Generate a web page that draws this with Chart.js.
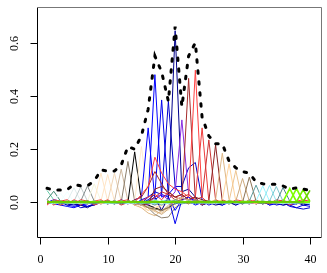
<!DOCTYPE html>
<html>
<head>
<meta charset="utf-8">
<script src="https://cdn.jsdelivr.net/npm/chart.js@4/dist/chart.umd.min.js"></script>
<style>
  html, body { margin: 0; padding: 0; background: #fff; }
  canvas { display: block; }
</style>
</head>
<body>
<canvas id="chart" width="327" height="273"></canvas>
<script>
const lags = [1,2,3,4,5,6,7,8,9,10,11,12,13,14,15,16,17,18,19,20,
              21,22,23,24,25,26,27,28,29,30,31,32,33,34,35,36,37,38,39,40];
const xTicks = [0, 10, 20, 30, 40];
const yTicks = [0, 0.2, 0.4, 0.6];
const yTickLabels = ["0.0", "0.2", "0.4", "0.6"];

// upper envelope (black dotted)
const envelope = [.053,.047,.047,.048,.068,.062,.063,.08,.122,.118,
                  .118,.14,.21,.20,.25,.35,.55,.49,.38,.66,
                  .36,.55,.60,.32,.25,.22,.22,.155,.13,.116,
                  .11,.077,.07,.068,.068,.062,.05,.055,.05,.045];

// one curve per lag, spike at its own lag
const curves = [
  [.045,.01,0,-.005,.005,0,-.005,0,.005,0, -.005,0,.005,0,-.005,.01,0,-.01,.005,0, 0,-.005,.005,0,0,.005,-.005,0,.005,0, -.005,0,.005,0,0,-.005,0,.005,0,-.005],
  [.01,.042,.005,0,-.005,.005,0,-.005,0,.005, 0,.005,-.005,0,.005,0,-.01,.005,0,-.005, .005,0,-.005,0,.005,0,0,-.005,0,.005, 0,-.005,0,.005,0,0,.005,-.005,0,0],
  [0,.005,.035,0,.005,-.005,0,.005,0,-.005, .005,0,0,-.005,.005,0,.01,-.005,0,.005, 0,-.005,0,.005,0,-.005,.005,0,0,-.005, .005,0,-.005,0,.005,0,0,-.005,.005,0],
  [.005,0,.005,.04,0,.005,-.005,0,.005,0, -.005,.005,0,.005,0,-.005,.005,0,-.005,0, .005,0,-.005,.005,0,0,-.005,.005,0,0, -.005,.005,0,0,-.005,.005,0,0,.005,-.005],
  [0,.005,0,.005,.055,.005,0,-.005,.005,0, 0,-.005,.005,0,-.01,.005,0,.005,-.005,0, 0,.005,0,-.005,.005,0,-.005,0,.005,0, 0,-.005,.005,0,0,.005,-.005,0,0,.005],
  [-.005,0,.005,0,.005,.058,.005,0,-.005,.005, 0,.005,-.005,0,.005,-.01,.005,0,.005,-.005, 0,.005,0,0,-.005,.005,0,-.005,0,.005, 0,0,-.005,.005,0,-.005,.005,0,0,-.005],
  [0,-.005,0,.005,0,.005,.062,.005,0,-.005, .005,0,-.005,.005,0,.005,-.005,-.01,0,.005, -.005,0,.005,0,-.005,0,.005,0,-.005,0, .005,0,0,-.005,.005,0,-.005,0,.005,0],
  [.005,0,-.005,0,.005,0,.005,.07,.005,0, -.005,.005,0,0,-.01,-.015,.005,0,-.005,.005, 0,-.005,.005,0,0,.005,-.005,0,.005,0, -.005,0,.005,0,0,-.005,0,.005,0,0],
  [0,.005,0,-.005,.005,0,0,.005,.11,.005, 0,-.005,.005,0,-.02,-.03,-.01,.005,0,-.005, .005,0,-.005,.005,0,-.005,0,.005,0,-.005, 0,.005,0,-.005,0,.005,0,-.005,.005,0],
  [.005,0,.005,0,-.005,.005,0,0,.005,.105, .005,0,-.005,.005,0,-.02,-.025,-.01,.005,0, -.005,.005,0,0,.005,-.005,0,.005,0,0, -.005,0,.005,0,-.005,0,.005,0,0,-.005],
  [0,-.005,0,.005,0,0,-.005,.005,0,.005, .11,.005,0,-.005,.005,-.01,-.03,-.02,0,.005, 0,.005,-.005,0,.005,0,-.005,0,.005,0, 0,-.005,.005,0,0,.005,-.005,0,.005,0],
  [.005,0,.005,-.005,0,.005,0,-.005,.005,0, .005,.125,.005,0,-.005,-.015,-.02,-.035,-.01,.005, 0,-.005,.005,0,0,.005,-.005,.005,0,-.005, .005,0,0,-.005,.005,0,0,.005,-.005,0],
  [0,.005,-.005,0,.005,0,.005,0,-.005,0, .005,0,.154,.005,-.01,-.02,-.045,-.058,-.055,-.02, -.005,.005,0,-.005,.005,0,0,-.005,.005,0, 0,.005,-.005,0,0,.005,0,-.005,0,.005],
  [-.005,0,.005,0,-.005,.005,0,.005,0,-.005, 0,.005,0,.19,.005,-.01,-.02,-.03,-.02,-.005, .005,0,-.005,.005,0,-.005,.005,0,0,-.005, .005,0,-.005,0,.005,0,0,-.005,.005,0],
  [0,.005,0,-.005,0,.005,0,-.005,.005,0, .005,-.005,0,.005,.21,.01,-.01,-.025,-.03,-.015, 0,.005,0,-.005,.005,0,-.005,.005,0,0, -.005,.005,0,0,-.005,.005,0,-.005,0,.005],
  [.005,-.005,-.01,-.015,-.02,-.01,-.015,-.005,0,-.005, .005,0,-.005,.01,.02,.28,.01,.03,.02,-.03, .01,.02,.005,-.01,0,-.005,-.01,.005,-.005,0, .005,-.005,.005,-.01,0,.005,-.01,-.005,.005,-.01],
  [0,.01,.005,-.005,-.01,-.005,-.015,-.01,.005,0, -.005,.005,0,-.005,.01,.02,.48,.02,.03,.06, .02,.005,-.01,0,-.005,.005,-.01,0,.005,-.005, 0,.005,-.005,.005,-.005,-.01,-.005,.005,-.01,-.005],
  [-.005,.005,0,-.01,-.015,-.01,-.005,.005,-.005,.005, 0,-.005,.005,0,-.005,.01,.03,.385,.02,-.08, .01,.02,-.005,.005,-.01,0,-.005,.005,-.01,0, -.005,0,.005,-.01,-.005,0,-.015,-.02,-.01,-.015],
  [.005,0,-.005,0,-.005,-.02,-.015,-.01,0,.005, -.005,.01,0,.005,-.005,.02,.04,.03,.38,.06, .06,.13,.15,.01,-.005,0,-.01,.005,0,-.005, .005,-.005,0,.005,-.01,-.005,-.01,-.02,-.025,-.02],
  [0,-.005,.005,-.01,-.005,-.01,-.02,-.005,.005,0, .005,-.005,.005,0,-.01,.005,.02,-.03,.02,.645, .04,.05,.02,-.01,0,-.01,-.005,0,-.01,.005, 0,.005,-.005,0,.005,-.01,-.005,0,-.01,-.005],
  [0,.005,0,-.005,.005,0,-.005,0,.005,0, -.005,.005,0,.005,0,-.01,.02,.03,.01,.04, .31,.03,.005,-.005,.005,0,-.005,0,.005,0, -.005,0,.005,-.005,0,.005,-.005,0,.005,-.005],
  [.005,0,-.005,.005,0,-.005,.005,0,0,-.005, .005,0,-.005,.01,.02,.06,.116,.07,.03,.02, .01,.466,.01,-.01,.005,-.005,0,.005,-.005,0, .005,-.005,0,.005,0,-.005,.005,0,-.005,.005],
  [-.01,.01,.005,-.005,.01,0,-.005,.005,.01,-.005, 0,.01,-.005,0,.03,.06,.17,.11,.07,.05, .04,.02,.497,.02,-.005,.01,0,-.005,.01,.005, 0,.01,-.005,.005,0,.01,-.005,.005,.01,0],
  [.01,-.01,.005,.01,-.005,.01,.005,-.01,0,.01, -.005,.005,.01,-.01,.005,.02,.03,.01,.04,.02, .03,.01,.02,.28,.005,-.005,.01,0,.005,-.005, .01,0,.005,-.005,.01,.005,-.01,0,.005,.01],
  [-.005,.005,-.01,0,.005,-.01,.005,0,-.005,0, .005,-.01,0,.005,-.01,0,.02,.04,.03,.01, .02,.03,.01,.02,.235,.01,-.005,.005,0,-.005, .005,-.005,0,.005,-.005,0,.005,-.005,0,.005],
  [0,-.005,.005,0,-.005,0,.005,-.005,0,.005, 0,-.005,.005,0,-.01,-.005,.05,.06,.04,.02, .03,.01,.02,.01,.005,.216,.005,-.005,.005,0, -.005,.005,0,-.005,.005,0,-.005,.005,0,-.005],
  [.005,0,-.005,.005,0,.005,-.005,0,.005,0, -.005,0,.005,-.01,-.02,-.04,-.05,-.03,-.015,.01, .005,-.005,.01,.005,0,.01,.185,.01,0,-.005, .005,0,-.005,.005,0,0,-.005,.005,0,0],
  [0,.005,0,-.005,.005,0,0,.005,-.005,0, .005,0,-.005,.005,-.01,-.03,-.02,-.01,.005,.01, -.005,.01,0,.005,-.005,0,.01,.145,.005,0, -.005,.005,0,0,.005,-.005,0,.005,0,-.005],
  [.005,0,.005,0,-.005,.005,0,-.005,0,.005, 0,-.005,.005,0,-.01,-.02,-.035,-.04,-.02,.01, .02,.005,0,-.005,.005,0,-.005,.005,.12,.005, 0,-.005,.005,0,-.005,.005,0,0,-.005,.005],
  [0,-.005,0,.005,0,-.005,.005,0,.005,0, -.005,.005,0,-.005,-.01,-.02,-.03,-.045,-.025,-.005, .015,.01,-.005,.005,0,.005,-.005,0,.005,.09, .005,0,-.005,.005,0,-.005,.005,0,0,-.005],
  [.005,0,-.005,0,.005,0,-.005,.005,0,-.005, 0,.005,0,-.005,-.005,-.02,-.025,-.03,-.02,.01, .005,-.005,.01,0,-.005,.005,0,-.005,.005,0, .095,.005,0,-.005,.005,0,-.005,.005,0,0],
  [0,.005,0,-.005,.005,0,.005,-.005,0,.005, -.005,0,.005,0,-.005,.005,-.01,.005,0,.01, -.005,0,.005,-.005,0,.005,0,-.005,.005,0, .005,.065,.005,0,-.005,.005,0,-.005,.005,0],
  [.005,0,-.005,.005,0,-.005,0,.005,0,-.005, .005,0,-.005,.005,0,-.005,.01,0,-.005,.005, 0,.005,-.005,0,.005,0,-.005,.005,0,-.005, 0,.005,.062,.005,0,-.005,.005,0,-.005,.005],
  [0,-.005,.005,0,-.005,.005,0,0,.005,-.005, 0,.005,0,-.005,.005,0,-.005,.005,.01,-.005, .005,0,-.005,.005,0,-.005,0,.005,-.005,0, .005,0,.005,.064,.005,0,-.005,.005,0,-.005],
  [.005,0,0,-.005,.005,0,-.005,.005,0,0, -.005,.005,0,.005,-.005,0,.005,-.01,.005,0, -.005,.005,0,0,-.005,.005,0,-.005,.005,0, -.005,.005,0,.005,.06,.005,0,-.005,.005,0],
  [0,.005,-.005,0,.005,0,0,-.005,.005,0, .005,-.005,0,.005,0,-.005,.005,0,.01,-.005, 0,.005,-.005,0,.005,0,-.005,.005,0,-.005, .005,0,-.005,.005,0,.056,.005,0,-.005,.005],
  [.003,0,.002,0,.003,.001,0,.002,.003,.001, 0,.002,.001,.003,0,.002,.004,.001,.002,.003, .001,.003,0,.002,.001,.003,.002,0,.001,.002, .003,.001,.002,0,.002,.003,.052,.003,.001,.002],
  [0,.002,.003,.001,0,.002,.003,.001,.002,0, .003,.001,.002,.003,.001,0,.002,.003,.001,.002, .003,0,.002,.001,.003,.002,0,.003,.002,.001, 0,.002,.003,.001,.002,0,.003,.052,.002,.001],
  [.002,.001,0,.003,.002,0,.001,.003,0,.002, .001,.003,.002,0,.003,.001,.002,0,.003,.001, .002,.001,.003,.002,0,.001,.003,.002,.001,.003, .002,.001,0,.002,.003,.001,.002,.003,.048,.003],
  [.001,.003,.002,.002,.001,.003,.002,0,.002,.003, .002,0,.003,.002,.002,.003,.001,.002,0,.002, 0,.002,.001,.003,.002,.002,.001,.003,.002,0, .001,.003,.002,.002,.001,.003,.002,.001,.003,.045]
];

const curveColors = [
  "#66CDAA","#458B74","#F0FFFF","#F0FFFF","#E0EEEE","#C1CDCD","#838B8B","#F5F5DC",
  "#FFE4C4","#FFE4C4","#EED5B7","#CDB79E","#8B7D6B","#000000","#FFEBCD",
  "#0000FF","#0000FF","#0000EE","#0000CD","#00008B","#8A2BE2",
  "#A52A2A","#FF4040","#EE3B3B","#CD3333","#8B2323",
  "#DEB887","#FFD39B","#EEC591","#CDAA7D","#8B7355",
  "#5F9EA0","#98F5FF","#8EE5EE","#7AC5CD","#53868B",
  "#7FFF00","#7FFF00","#76EE00","#66CD00"
];

const FONT = '12px "Liberation Serif", "DejaVu Serif", serif';

const datasets = curves.map((vals, i) => ({
  data: vals.map((v, j) => ({ x: lags[j], y: v })),
  borderColor: curveColors[i],
  borderWidth: i >= 36 ? 1.6 : 1,
  pointRadius: 0,
  tension: 0,
  order: curves.length - i
}));
datasets.push({
  data: envelope.map((v, j) => ({ x: lags[j], y: v })),
  borderColor: "#000",
  borderWidth: 3,
  borderDash: [2.5, 8.5],
  borderCapStyle: "round",
  pointRadius: 0,
  tension: 0,
  order: 0
});

// R-style box, ticks and labels
const rAxes = {
  id: "rAxes",
  afterDraw(chart) {
    const ctx = chart.ctx;
    const a = chart.chartArea;
    const xs = chart.scales.x, ys = chart.scales.y;
    ctx.save();
    ctx.lineWidth = 1;
    ctx.strokeStyle = "#000";
    ctx.beginPath();
    ctx.moveTo(Math.round(a.left) + 0.5, Math.round(a.top) + 0.5);
    ctx.lineTo(Math.round(a.left) + 0.5, Math.round(a.bottom) + 0.5);
    ctx.lineTo(Math.round(a.right) + 0.5, Math.round(a.bottom) + 0.5);
    ctx.stroke();
    ctx.strokeStyle = "#777";
    ctx.beginPath();
    ctx.moveTo(Math.round(a.left) + 0.5, Math.round(a.top) + 0.5);
    ctx.lineTo(Math.round(a.right) + 0.5, Math.round(a.top) + 0.5);
    ctx.lineTo(Math.round(a.right) + 0.5, Math.round(a.bottom) + 0.5);
    ctx.stroke();

    ctx.strokeStyle = "#000";
    ctx.fillStyle = "#000";
    ctx.font = FONT;
    const yb = Math.round(a.bottom) + 0.5;
    xTicks.forEach(t => {
      const px = Math.round(xs.getPixelForValue(t)) + 0.5;
      ctx.beginPath();
      ctx.moveTo(px, yb);
      ctx.lineTo(px, yb + 7);
      ctx.stroke();
      ctx.textAlign = "center";
      ctx.textBaseline = "middle";
      ctx.fillText(String(t), px, 260);
    });
    const xl = Math.round(a.left) + 0.5;
    yTicks.forEach((t, i) => {
      const py = Math.round(ys.getPixelForValue(t)) + 0.5;
      ctx.beginPath();
      ctx.moveTo(xl, py);
      ctx.lineTo(xl - 7, py);
      ctx.stroke();
      ctx.save();
      ctx.translate(15, py);
      ctx.rotate(-Math.PI / 2);
      ctx.textAlign = "center";
      ctx.textBaseline = "middle";
      ctx.fillText(yTickLabels[i], 0, 0);
      ctx.restore();
    });
    ctx.restore();
  }
};

new Chart(document.getElementById("chart").getContext("2d"), {
  type: "line",
  data: { datasets: datasets },
  options: {
    responsive: false,
    animation: false,
    devicePixelRatio: 1,
    layout: { padding: { left: 36.5, right: 6.5, top: 7.3, bottom: 35.7 } },
    scales: {
      x: { type: "linear", min: -0.56, max: 41.56, display: false },
      y: { type: "linear", min: -0.131, max: 0.733, display: false }
    },
    plugins: {
      legend: { display: false },
      tooltip: { enabled: false }
    }
  },
  plugins: [rAxes]
});
</script>
</body>
</html>
